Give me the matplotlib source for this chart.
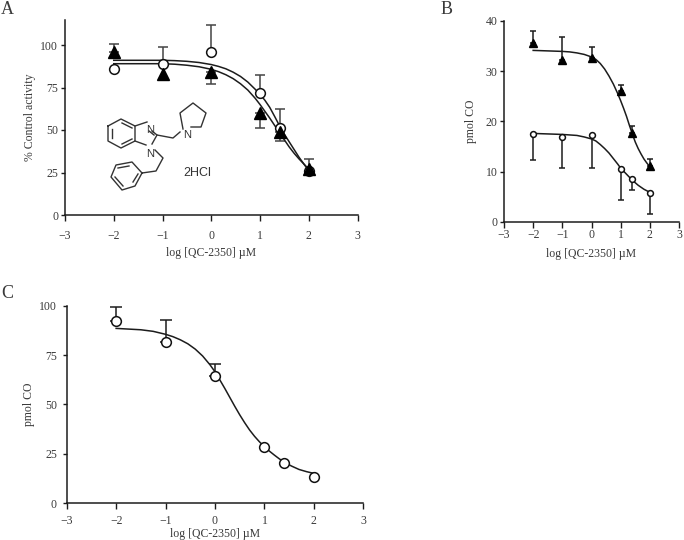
import matplotlib
matplotlib.use('Agg')
import matplotlib.pyplot as plt

plt.rcParams['font.family'] = ['Liberation Serif', 'DejaVu Sans']
plt.rcParams['axes.unicode_minus'] = True

W, H = 684, 540
TXT = '#3a3a3a'
LINE = '#1c1c1c'

conc = [-2, -1, 0, 1, 1.4, 2]

# panel A
a_open = [86, 89, 96, 72, 51, 26]
a_open_hi = [86, 99, 112, 82.5, 62.5, 33]
a_tri = [96, 83, 84, 60, 49, 27]
a_tri_lo = [96, 83, 77, 51, 43.5, 27]
a_tri_hi = [100.5, 83, 84, 60, 49, 27]
a_fit_x = [-2, -1.5, -1, -0.75, -0.5, -0.25, 0, 0.15, 0.3, 0.45, 0.6, 0.75, 0.9, 1, 1.1, 1.2, 1.3, 1.4, 1.5, 1.6, 1.7, 1.8, 1.9, 2]
a_fit_open = [91, 91, 91, 90.8, 90.4, 89.7, 88.5, 87.4, 86, 84, 81.5, 78.2, 74, 71, 67.5, 63.3, 58, 52.5, 47.5, 43, 38.5, 34, 30, 26]
a_fit_tri = [89, 89, 89, 88.7, 88.1, 87.2, 85.7, 84.3, 82.5, 80.2, 77.2, 73.5, 68.7, 65, 61, 57, 52.7, 48.5, 44.2, 40, 36.3, 33, 30, 27]

# panel B
b_tri = [35.5, 32.2, 32.5, 26, 17.6, 11.1]
b_tri_hi = [37.9, 36.7, 34.7, 27.2, 19.1, 12.6]
b_open = [17.4, 16.9, 17.2, 10.6, 8.6, 5.8]
b_open_lo = [12.4, 10.7, 10.7, 4.4, 6.3, 1.6]
b_fit_x = [-2, -1.5, -1, -0.75, -0.5, -0.25, 0, 0.15, 0.3, 0.45, 0.6, 0.75, 0.9, 1, 1.1, 1.2, 1.3, 1.4, 1.5, 1.6, 1.7, 1.8, 1.9, 2]
b_fit_tri = [34.1, 34, 33.9, 33.8, 33.6, 33.3, 32.8, 32.3, 31.5, 30.4, 29, 27.4, 25.5, 24.1, 22.6, 21, 19.2, 17.5, 15.9, 14.6, 13.5, 12.5, 11.7, 11]
b_fit_open = [17.6, 17.5, 17.4, 17.3, 17.2, 16.9, 16.5, 16.1, 15.4, 14.6, 13.7, 12.6, 11.5, 10.7, 10.1, 9.5, 8.9, 8.3, 7.8, 7.3, 6.9, 6.5, 6.2, 5.9]

# panel C
c_open = [92, 81.5, 64.5, 28.5, 20.5, 13.3]
c_open_hi = [99.5, 92.5, 70.5, 28.5, 20.5, 13.3]
c_fit_x = [-2, -1.5, -1.25, -1, -0.85, -0.7, -0.55, -0.4, -0.25, -0.1, 0, 0.1, 0.2, 0.3, 0.4, 0.5, 0.6, 0.7, 0.8, 0.9, 1, 1.1, 1.2, 1.3, 1.4, 1.55, 1.7, 1.85, 2]
c_fit = [88.5, 87.8, 87, 85.5, 84.3, 82.7, 80.7, 78, 74.5, 70, 66.5, 62.3, 58, 53.5, 49, 44.7, 40.7, 37, 33.8, 31, 28.5, 26.3, 24.3, 22.4, 20.7, 18.7, 17, 15.9, 15]

xticks = [-3, -2, -1, 0, 1, 2, 3]

fig = plt.figure(figsize=(W / 100, H / 100), dpi=100)


def make_axes(x0, x1, y_bottom, y_top, ymax, yticks, ylabel, xpad, ypad, xlab_pad, ylab_pad):
    ax = fig.add_axes([x0 / W, 1 - y_bottom / H, (x1 - x0) / W, (y_bottom - y_top) / H])
    ax.set_xlim(-3, 3)
    ax.set_ylim(0, ymax)
    ax.set_xticks(xticks)
    ax.set_yticks(yticks)
    ax.spines['top'].set_visible(False)
    ax.spines['right'].set_visible(False)
    ax.spines['left'].set_color(LINE)
    ax.spines['bottom'].set_color(LINE)
    ax.spines['left'].set_linewidth(1.1)
    ax.spines['bottom'].set_linewidth(1.1)
    ax.tick_params(axis='x', length=4, width=1, color=LINE, labelsize=8.5, labelcolor=TXT, pad=xpad)
    ax.tick_params(axis='y', length=3, width=1, color=LINE, labelsize=8.5, labelcolor=TXT, pad=ypad)
    ax.set_xlabel('log [QC-2350] µM', fontsize=8.5, color=TXT, labelpad=xlab_pad)
    ax.set_ylabel(ylabel, fontsize=8.5, color=TXT, labelpad=ylab_pad)
    ax.patch.set_alpha(0)
    return ax


def bars(ax, x, y, end, color=LINE, capsize=3.5):
    # one sided error bars, only where the end differs from the point
    for xi, yi, ei in zip(x, y, end):
        if ei != yi:
            lo = [yi - ei] if ei < yi else [0]
            hi = [ei - yi] if ei > yi else [0]
            ax.errorbar([xi], [yi], yerr=[lo, hi], fmt='none', ecolor=color,
                        elinewidth=1.1, capsize=capsize, capthick=1.1, zorder=2)


def open_pts(ax, x, y, size):
    ax.plot(x, y, 'o', ms=size, mfc='white', mec='#111111', mew=1.1, zorder=4)


def tri_pts(ax, x, y, size):
    ax.plot(x, y, '^', ms=size, color='black', zorder=5)


# A
ax_a = make_axes(65, 357.5, 215, 19.5, 115, [0, 25, 50, 75, 100], '% Control activity', 7, 2, 3.4, 2.8)
bars(ax_a, conc, a_open, a_open_hi, '#444444')
bars(ax_a, conc, a_tri, a_tri_lo, '#444444')
bars(ax_a, conc, a_tri, a_tri_hi, '#444444')
ax_a.plot(a_fit_x, a_fit_open, color=LINE, lw=1.1, zorder=3)
ax_a.plot(a_fit_x, a_fit_tri, color=LINE, lw=1.1, zorder=3)
open_pts(ax_a, conc, a_open, 7)
tri_pts(ax_a, conc, a_tri, 8)

# B
ax_b = make_axes(504, 679, 222, 20.7, 40, [0, 10, 20, 30, 40], 'pmol CO', 1, 1.5, 5.3, 6.7)
bars(ax_b, conc, b_tri, b_tri_hi, capsize=2.5)
bars(ax_b, conc, b_open, b_open_lo, capsize=2.5)
ax_b.plot(b_fit_x, b_fit_tri, color=LINE, lw=1.1, zorder=3)
ax_b.plot(b_fit_x, b_fit_open, color=LINE, lw=1.1, zorder=3)
open_pts(ax_b, conc, b_open, 4.2)
tri_pts(ax_b, conc, b_tri, 5.2)

# C
ax_c = make_axes(66.7, 363.3, 503, 305.7, 100, [0, 25, 50, 75, 100], 'pmol CO', 5, 4, 0, 3)
bars(ax_c, conc, c_open, c_open_hi, capsize=4.3)
ax_c.plot(c_fit_x, c_fit, color=LINE, lw=1.1, zorder=3)
open_pts(ax_c, conc, c_open, 7)

# overlay in pixel units for the panel letters and the structure drawing
over = fig.add_axes([0, 0, 1, 1])
over.set_xlim(0, W)
over.set_ylim(H, 0)
over.axis('off')
over.patch.set_alpha(0)

for s, px, py in [('A', 1, 9), ('B', 441, 10), ('C', 1, 294)]:
    over.text(px, py, s, fontsize=13, color=TXT, va='center', ha='left')

bonds = [
    [(108, 126), (121, 119), (135, 126), (135, 141), (121, 148), (108, 141), (108, 126)],
    [(112, 129), (112, 138)], [(122, 123), (132, 128)], [(122, 144), (132, 139)],
    [(135, 126), (147, 122)], [(135, 141), (146, 145)],
    [(152, 131), (157, 135), (152, 144)], [(149, 131), (154, 135)],
    [(157, 135), (173, 138), (180, 132)],
    [(183, 129), (180, 113), (193, 103), (206, 113), (201, 127), (191, 127)],
    [(155, 150), (163, 158), (156, 171), (142, 173)],
    [(142, 173), (132, 162), (116, 165), (111, 177), (122, 190), (135, 186), (142, 173)],
    [(129, 166), (118, 168)], [(115, 177), (123, 186)], [(133, 182), (138, 174)],
]
for b in bonds:
    over.plot([p[0] for p in b], [p[1] for p in b], color='#333333', lw=1.0)

for s, px, py in [('N', 150, 130), ('N', 187, 135), ('N', 150, 154)]:
    over.text(px, py, s, fontsize=8, color='#333333', family='Liberation Sans',
              ha='center', va='center')
over.text(197, 173, '2HCl', fontsize=9, color='#333333', family='Liberation Sans',
          ha='center', va='center')

fig.savefig('out.png', dpi=100)
